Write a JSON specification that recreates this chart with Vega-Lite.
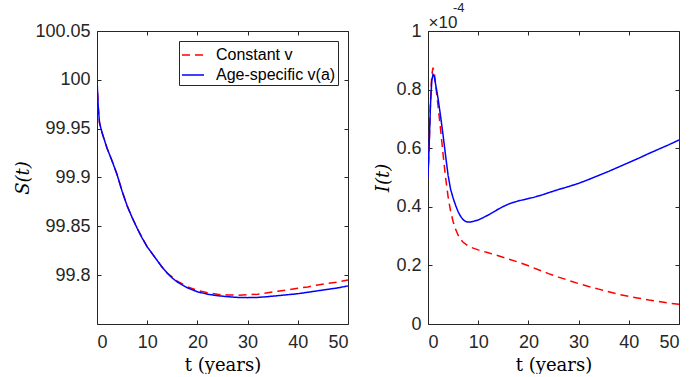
{
  "$schema": "https://vega.github.io/schema/vega-lite/v6.json",
  "background": "white",
  "padding": {"left": 14, "top": 1, "right": 0, "bottom": 0},
  "bounds": "flush",
  "spacing": 80,
  "config": {
    "view": {"stroke": null},
    "title": {"font": "Liberation Sans", "fontSize": 13, "fontWeight": "normal", "color": "#262626"},
    "axis": {
      "labelFont": "Liberation Sans",
      "labelFontSize": 18,
      "labelColor": "#262626",
      "domainColor": "#262626",
      "tickColor": "#262626",
      "tickSize": -4,
      "grid": false,
      "titleFont": "DejaVu Serif",
      "titleFontSize": 18,
      "titleFontWeight": "normal",
      "titleColor": "#000000",
      "labelPadding": 11
    }
  },
  "datasets": {
    "S": [
      {"t": 0, "S": 100.0, "series": "Constant v"},
      {"t": 0.25, "S": 99.972, "series": "Constant v"},
      {"t": 0.5, "S": 99.956, "series": "Constant v"},
      {"t": 1, "S": 99.946, "series": "Constant v"},
      {"t": 2, "S": 99.930, "series": "Constant v"},
      {"t": 3, "S": 99.917, "series": "Constant v"},
      {"t": 4, "S": 99.903, "series": "Constant v"},
      {"t": 5, "S": 99.886, "series": "Constant v"},
      {"t": 6, "S": 99.871, "series": "Constant v"},
      {"t": 7, "S": 99.859, "series": "Constant v"},
      {"t": 8, "S": 99.848, "series": "Constant v"},
      {"t": 9, "S": 99.838, "series": "Constant v"},
      {"t": 10, "S": 99.829, "series": "Constant v"},
      {"t": 11, "S": 99.822, "series": "Constant v"},
      {"t": 12, "S": 99.815, "series": "Constant v"},
      {"t": 13, "S": 99.808, "series": "Constant v"},
      {"t": 14, "S": 99.802, "series": "Constant v"},
      {"t": 15, "S": 99.798, "series": "Constant v"},
      {"t": 16, "S": 99.794, "series": "Constant v"},
      {"t": 17, "S": 99.791, "series": "Constant v"},
      {"t": 18, "S": 99.788, "series": "Constant v"},
      {"t": 20, "S": 99.7845, "series": "Constant v"},
      {"t": 22, "S": 99.782, "series": "Constant v"},
      {"t": 24, "S": 99.7805, "series": "Constant v"},
      {"t": 26, "S": 99.7797, "series": "Constant v"},
      {"t": 28, "S": 99.7795, "series": "Constant v"},
      {"t": 30, "S": 99.780, "series": "Constant v"},
      {"t": 32, "S": 99.7805, "series": "Constant v"},
      {"t": 34, "S": 99.782, "series": "Constant v"},
      {"t": 36, "S": 99.7835, "series": "Constant v"},
      {"t": 38, "S": 99.785, "series": "Constant v"},
      {"t": 40, "S": 99.7865, "series": "Constant v"},
      {"t": 42, "S": 99.788, "series": "Constant v"},
      {"t": 44, "S": 99.790, "series": "Constant v"},
      {"t": 46, "S": 99.7915, "series": "Constant v"},
      {"t": 48, "S": 99.793, "series": "Constant v"},
      {"t": 50, "S": 99.795, "series": "Constant v"},
      {"t": 0, "S": 100.0, "series": "Age-specific v(a)"},
      {"t": 0.25, "S": 99.972, "series": "Age-specific v(a)"},
      {"t": 0.5, "S": 99.956, "series": "Age-specific v(a)"},
      {"t": 1, "S": 99.946, "series": "Age-specific v(a)"},
      {"t": 2, "S": 99.930, "series": "Age-specific v(a)"},
      {"t": 3, "S": 99.917, "series": "Age-specific v(a)"},
      {"t": 4, "S": 99.903, "series": "Age-specific v(a)"},
      {"t": 5, "S": 99.886, "series": "Age-specific v(a)"},
      {"t": 6, "S": 99.871, "series": "Age-specific v(a)"},
      {"t": 7, "S": 99.859, "series": "Age-specific v(a)"},
      {"t": 8, "S": 99.848, "series": "Age-specific v(a)"},
      {"t": 9, "S": 99.838, "series": "Age-specific v(a)"},
      {"t": 10, "S": 99.829, "series": "Age-specific v(a)"},
      {"t": 11, "S": 99.822, "series": "Age-specific v(a)"},
      {"t": 12, "S": 99.815, "series": "Age-specific v(a)"},
      {"t": 13, "S": 99.808, "series": "Age-specific v(a)"},
      {"t": 14, "S": 99.802, "series": "Age-specific v(a)"},
      {"t": 15, "S": 99.797, "series": "Age-specific v(a)"},
      {"t": 16, "S": 99.793, "series": "Age-specific v(a)"},
      {"t": 18, "S": 99.787, "series": "Age-specific v(a)"},
      {"t": 20, "S": 99.783, "series": "Age-specific v(a)"},
      {"t": 22, "S": 99.7805, "series": "Age-specific v(a)"},
      {"t": 24, "S": 99.779, "series": "Age-specific v(a)"},
      {"t": 26, "S": 99.778, "series": "Age-specific v(a)"},
      {"t": 28, "S": 99.7772, "series": "Age-specific v(a)"},
      {"t": 30, "S": 99.777, "series": "Age-specific v(a)"},
      {"t": 32, "S": 99.7772, "series": "Age-specific v(a)"},
      {"t": 34, "S": 99.778, "series": "Age-specific v(a)"},
      {"t": 36, "S": 99.779, "series": "Age-specific v(a)"},
      {"t": 38, "S": 99.780, "series": "Age-specific v(a)"},
      {"t": 40, "S": 99.781, "series": "Age-specific v(a)"},
      {"t": 42, "S": 99.7825, "series": "Age-specific v(a)"},
      {"t": 44, "S": 99.784, "series": "Age-specific v(a)"},
      {"t": 46, "S": 99.7855, "series": "Age-specific v(a)"},
      {"t": 48, "S": 99.787, "series": "Age-specific v(a)"},
      {"t": 50, "S": 99.789, "series": "Age-specific v(a)"}
    ],
    "I": [
      {"t": 0, "I": 0.5, "series": "Constant v"},
      {"t": 0.25, "I": 0.62, "series": "Constant v"},
      {"t": 0.5, "I": 0.76, "series": "Constant v"},
      {"t": 0.75, "I": 0.85, "series": "Constant v"},
      {"t": 1.0, "I": 0.875, "series": "Constant v"},
      {"t": 1.25, "I": 0.86, "series": "Constant v"},
      {"t": 1.5, "I": 0.82, "series": "Constant v"},
      {"t": 2, "I": 0.745, "series": "Constant v"},
      {"t": 2.5, "I": 0.665, "series": "Constant v"},
      {"t": 3, "I": 0.58, "series": "Constant v"},
      {"t": 3.5, "I": 0.50, "series": "Constant v"},
      {"t": 4, "I": 0.435, "series": "Constant v"},
      {"t": 4.5, "I": 0.385, "series": "Constant v"},
      {"t": 5, "I": 0.35, "series": "Constant v"},
      {"t": 5.5, "I": 0.323, "series": "Constant v"},
      {"t": 6, "I": 0.303, "series": "Constant v"},
      {"t": 6.5, "I": 0.289, "series": "Constant v"},
      {"t": 7, "I": 0.279, "series": "Constant v"},
      {"t": 8, "I": 0.266, "series": "Constant v"},
      {"t": 9, "I": 0.259, "series": "Constant v"},
      {"t": 10, "I": 0.253, "series": "Constant v"},
      {"t": 12, "I": 0.243, "series": "Constant v"},
      {"t": 14, "I": 0.233, "series": "Constant v"},
      {"t": 16, "I": 0.222, "series": "Constant v"},
      {"t": 18, "I": 0.211, "series": "Constant v"},
      {"t": 20, "I": 0.199, "series": "Constant v"},
      {"t": 22, "I": 0.185, "series": "Constant v"},
      {"t": 24, "I": 0.172, "series": "Constant v"},
      {"t": 26, "I": 0.160, "series": "Constant v"},
      {"t": 28, "I": 0.149, "series": "Constant v"},
      {"t": 30, "I": 0.138, "series": "Constant v"},
      {"t": 32, "I": 0.128, "series": "Constant v"},
      {"t": 34, "I": 0.119, "series": "Constant v"},
      {"t": 36, "I": 0.110, "series": "Constant v"},
      {"t": 38, "I": 0.101, "series": "Constant v"},
      {"t": 40, "I": 0.094, "series": "Constant v"},
      {"t": 42, "I": 0.088, "series": "Constant v"},
      {"t": 44, "I": 0.082, "series": "Constant v"},
      {"t": 46, "I": 0.077, "series": "Constant v"},
      {"t": 48, "I": 0.071, "series": "Constant v"},
      {"t": 50, "I": 0.067, "series": "Constant v"},
      {"t": 0, "I": 0.5, "series": "Age-specific v(a)"},
      {"t": 0.25, "I": 0.62, "series": "Age-specific v(a)"},
      {"t": 0.5, "I": 0.75, "series": "Age-specific v(a)"},
      {"t": 0.75, "I": 0.83, "series": "Age-specific v(a)"},
      {"t": 1.0, "I": 0.852, "series": "Age-specific v(a)"},
      {"t": 1.25, "I": 0.845, "series": "Age-specific v(a)"},
      {"t": 1.5, "I": 0.82, "series": "Age-specific v(a)"},
      {"t": 2, "I": 0.77, "series": "Age-specific v(a)"},
      {"t": 2.5, "I": 0.71, "series": "Age-specific v(a)"},
      {"t": 3, "I": 0.645, "series": "Age-specific v(a)"},
      {"t": 3.5, "I": 0.575, "series": "Age-specific v(a)"},
      {"t": 4, "I": 0.508, "series": "Age-specific v(a)"},
      {"t": 4.5, "I": 0.46, "series": "Age-specific v(a)"},
      {"t": 5, "I": 0.43, "series": "Age-specific v(a)"},
      {"t": 5.5, "I": 0.405, "series": "Age-specific v(a)"},
      {"t": 6, "I": 0.383, "series": "Age-specific v(a)"},
      {"t": 6.5, "I": 0.367, "series": "Age-specific v(a)"},
      {"t": 7, "I": 0.356, "series": "Age-specific v(a)"},
      {"t": 7.5, "I": 0.35, "series": "Age-specific v(a)"},
      {"t": 8, "I": 0.348, "series": "Age-specific v(a)"},
      {"t": 8.5, "I": 0.348, "series": "Age-specific v(a)"},
      {"t": 9, "I": 0.350, "series": "Age-specific v(a)"},
      {"t": 10, "I": 0.355, "series": "Age-specific v(a)"},
      {"t": 11, "I": 0.363, "series": "Age-specific v(a)"},
      {"t": 12, "I": 0.372, "series": "Age-specific v(a)"},
      {"t": 13, "I": 0.382, "series": "Age-specific v(a)"},
      {"t": 14, "I": 0.392, "series": "Age-specific v(a)"},
      {"t": 15, "I": 0.401, "series": "Age-specific v(a)"},
      {"t": 16, "I": 0.409, "series": "Age-specific v(a)"},
      {"t": 17, "I": 0.415, "series": "Age-specific v(a)"},
      {"t": 18, "I": 0.420, "series": "Age-specific v(a)"},
      {"t": 19, "I": 0.424, "series": "Age-specific v(a)"},
      {"t": 20, "I": 0.428, "series": "Age-specific v(a)"},
      {"t": 21, "I": 0.432, "series": "Age-specific v(a)"},
      {"t": 22, "I": 0.437, "series": "Age-specific v(a)"},
      {"t": 23, "I": 0.442, "series": "Age-specific v(a)"},
      {"t": 24, "I": 0.448, "series": "Age-specific v(a)"},
      {"t": 26, "I": 0.459, "series": "Age-specific v(a)"},
      {"t": 28, "I": 0.469, "series": "Age-specific v(a)"},
      {"t": 30, "I": 0.480, "series": "Age-specific v(a)"},
      {"t": 32, "I": 0.493, "series": "Age-specific v(a)"},
      {"t": 34, "I": 0.507, "series": "Age-specific v(a)"},
      {"t": 36, "I": 0.521, "series": "Age-specific v(a)"},
      {"t": 38, "I": 0.536, "series": "Age-specific v(a)"},
      {"t": 40, "I": 0.551, "series": "Age-specific v(a)"},
      {"t": 42, "I": 0.566, "series": "Age-specific v(a)"},
      {"t": 44, "I": 0.582, "series": "Age-specific v(a)"},
      {"t": 46, "I": 0.597, "series": "Age-specific v(a)"},
      {"t": 48, "I": 0.612, "series": "Age-specific v(a)"},
      {"t": 50, "I": 0.628, "series": "Age-specific v(a)"}
    ]
  },
  "hconcat": [
    {
      "width": 251,
      "height": 293,
      "data": {"name": "S"},
      "layer": [
        {
          "mark": {"type": "line", "strokeWidth": 1.5, "clip": true},
          "encoding": {
            "x": {"field": "t", "type": "quantitative", "scale": {"domain": [0, 50], "nice": false},
                  "axis": {"orient": "bottom", "values": [0, 10, 20, 30, 40, 50], "format": "d", "title": "t (years)", "titleFont": "DejaVu Serif", "titleFontWeight": "normal", "titleFontSize": 18, "titlePadding": 5, "labelPadding": 13}},
            "y": {"field": "S", "type": "quantitative", "scale": {"domain": [99.75, 100.05], "nice": false, "zero": false},
                  "axis": {"orient": "left", "values": [99.8, 99.85, 99.9, 99.95, 100, 100.05], "format": "~f", "title": "S(t)", "titleFont": "DejaVu Serif", "titleFontWeight": "normal", "titleFontStyle": "italic", "titlePadding": 2}},
            "color": {"field": "series", "type": "nominal",
                      "scale": {"domain": ["Constant v", "Age-specific v(a)"], "range": ["#ff0000", "#0000ff"]},
                      "legend": {"orient": "none", "legendX": 82, "legendY": 10, "title": null, "symbolType": "stroke", "symbolSize": 484, "symbolStrokeWidth": 1.5, "labelFont": "Liberation Sans", "labelFontSize": 16, "labelColor": "#000000", "strokeColor": "#262626", "fillColor": "white", "padding": 2, "rowPadding": -4, "labelOffset": 11}},
            "strokeDash": {"field": "series", "type": "nominal",
                      "scale": {"domain": ["Constant v", "Age-specific v(a)"], "range": [[8, 5], [1, 0]]},
                      "legend": {"orient": "none", "legendX": 82, "legendY": 10, "title": null, "symbolType": "stroke", "symbolSize": 484, "symbolStrokeWidth": 1.5, "labelFont": "Liberation Sans", "labelFontSize": 16, "labelColor": "#000000", "strokeColor": "#262626", "fillColor": "white", "padding": 2, "rowPadding": -4, "labelOffset": 11}}
          }
        },
        {
          "mark": {"type": "line", "opacity": 0},
          "encoding": {
            "x": {"field": "t", "type": "quantitative", "axis": {"orient": "top", "values": [0, 10, 20, 30, 40, 50], "labels": false, "title": null}},
            "y": {"field": "S", "type": "quantitative", "axis": {"orient": "right", "values": [99.8, 99.85, 99.9, 99.95, 100, 100.05], "labels": false, "title": null}}
          }
        }
      ]
    },
    {
      "width": 251,
      "height": 293,
      "data": {"name": "I"},
      "title": {"text": "-4", "anchor": "start", "frame": "group", "font": "Liberation Sans", "fontSize": 13, "fontWeight": "normal", "color": "#262626", "offset": -1, "dx": 25},
      "layer": [
        {
          "mark": {"type": "line", "strokeWidth": 1.5, "clip": true},
          "encoding": {
            "x": {"field": "t", "type": "quantitative", "scale": {"domain": [0, 50], "nice": false},
                  "axis": {"orient": "bottom", "values": [0, 10, 20, 30, 40, 50], "format": "d", "title": "t (years)", "titleFont": "DejaVu Serif", "titleFontWeight": "normal", "titleFontSize": 18, "titlePadding": 5, "labelPadding": 13}},
            "y": {"field": "I", "type": "quantitative", "scale": {"domain": [0, 1], "nice": false},
                  "axis": {"orient": "left", "values": [0, 0.2, 0.4, 0.6, 0.8, 1], "format": "~f", "title": "I(t)", "titleFont": "DejaVu Serif", "titleFontWeight": "normal", "titleFontStyle": "italic", "titlePadding": 3}},
            "color": {"field": "series", "type": "nominal",
                      "scale": {"domain": ["Constant v", "Age-specific v(a)"], "range": ["#ff0000", "#0000ff"]}, "legend": null},
            "strokeDash": {"field": "series", "type": "nominal",
                      "scale": {"domain": ["Constant v", "Age-specific v(a)"], "range": [[8, 5], [1, 0]]}, "legend": null}
          }
        },
        {
          "mark": {"type": "line", "opacity": 0},
          "encoding": {
            "x": {"field": "t", "type": "quantitative", "axis": {"orient": "top", "values": [0, 10, 20, 30, 40, 50], "labels": false, "title": "×10", "titleAnchor": "start", "titleAlign": "left", "titleFont": "Liberation Sans", "titleFontSize": 17, "titleFontWeight": "normal", "titleColor": "#262626", "titlePadding": -1}},
            "y": {"field": "I", "type": "quantitative", "axis": {"orient": "right", "values": [0, 0.2, 0.4, 0.6, 0.8, 1], "labels": false, "title": null}}
          }
        }
      ]
    }
  ],
  "resolve": {"scale": {"color": "independent", "strokeDash": "independent"}}
}
